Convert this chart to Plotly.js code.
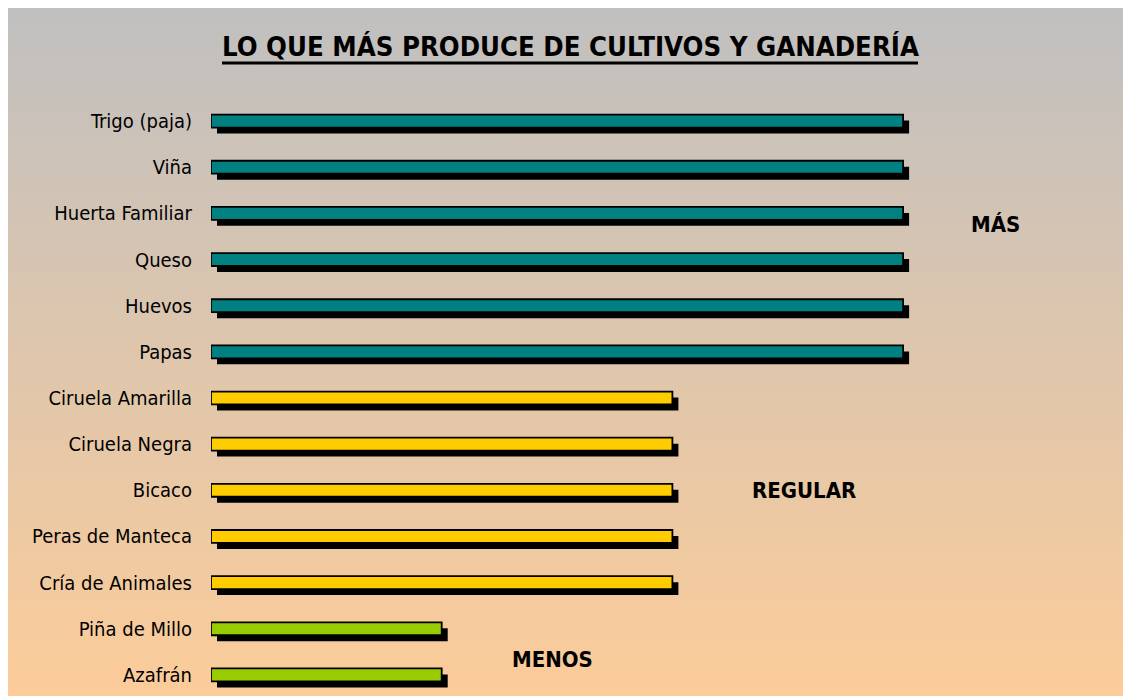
<!DOCTYPE html>
<html>
<head>
<meta charset="utf-8">
<script src="https://cdn.plot.ly/plotly-3.0.1.min.js"></script>
<style>
  html, body { margin: 0; padding: 0; background: #ffffff; width: 1123px; height: 698px; overflow: hidden; }
  #bg { position: absolute; left: 8px; top: 8px; width: 1115px; height: 688px;
        background: linear-gradient(to bottom, #c0c0c0 0%, #fccc99 100%); }
  #chart { position: absolute; left: 0; top: 0; width: 1123px; height: 698px; }
</style>
</head>
<body>
<div id="bg"></div>
<div id="chart"></div>
<script>
const categories = [
  "Trigo (paja)", "Viña", "Huerta Familiar", "Queso", "Huevos", "Papas",
  "Ciruela Amarilla", "Ciruela Negra", "Bicaco", "Peras de Manteca", "Cría de Animales",
  "Piña de Millo", "Azafrán"
];
const values = [3, 3, 3, 3, 3, 3, 2, 2, 2, 2, 2, 1, 1];
const levelLabels = ["MENOS", "REGULAR", "MÁS"];
const levelValues = [1, 2, 3];
const levelColors = { 3: "#008080", 2: "#FFCC00", 1: "#99CC00" };

const xUnitPx = 230.7;     // px per unit (layout)
const rowPx = 600 / 13;    // px per category row
const barWidth = 0.28;
const shadowDx = 6 / xUnitPx;
const shadowDy = 6 / rowPx;

const shadow = {
  type: "bar", orientation: "h",
  y: categories, x: values,
  base: shadowDx,
  width: barWidth,
  offset: -barWidth / 2 + shadowDy,
  marker: { color: "#000000", line: { width: 0 } },
  hoverinfo: "skip", showlegend: false
};
const bars = {
  type: "bar", orientation: "h",
  y: categories, x: values,
  width: barWidth,
  marker: { color: values.map(v => levelColors[v]), line: { color: "#000000", width: 1.8 } },
  showlegend: false
};

const annPos = { 3: [3.40, 2.25], 2: [2.57, 8.0], 1: [1.48, 11.67] };
const annotations = levelValues.map((v, i) => ({
  x: annPos[v][0], y: annPos[v][1], xref: "x", yref: "y",
  text: levelLabels[i], showarrow: false,
  font: { family: "DejaVu Sans Condensed", size: 22, color: "#000000", weight: "bold" }
}));

const layout = {
  width: 1123, height: 698,
  margin: { l: 211, r: 12, t: 98, b: 0 },
  paper_bgcolor: "rgba(0,0,0,0)", plot_bgcolor: "rgba(0,0,0,0)",
  barmode: "overlay",
  title: {
    text: "LO QUE MÁS PRODUCE DE CULTIVOS Y GANADERÍA",
    x: 0.508, xanchor: "center", y: 0.934, yanchor: "middle",
    font: { family: "DejaVu Sans Condensed", size: 27.3, color: "#000000", weight: "bold" }
  },
  shapes: [{
    type: "line", xref: "paper", yref: "paper",
    x0: (222 - 211) / 900, x1: (918 - 211) / 900,
    y0: (698 - 63) / 600, y1: (698 - 63) / 600,
    line: { color: "#000000", width: 3 }
  }],
  xaxis: { range: [0, 900 / xUnitPx], visible: false, fixedrange: true },
  yaxis: {
    type: "category", categoryorder: "array", categoryarray: categories,
    autorange: "reversed", showgrid: false, zeroline: false, showline: false,
    ticks: "outside", ticklen: 14, tickcolor: "rgba(0,0,0,0)",
    tickfont: { family: "DejaVu Sans Condensed", size: 20, color: "#000000" }
  },
  annotations: annotations
};

Plotly.newPlot("chart", [shadow, bars], layout, { displayModeBar: false, staticPlot: true });
</script>
</body>
</html>
